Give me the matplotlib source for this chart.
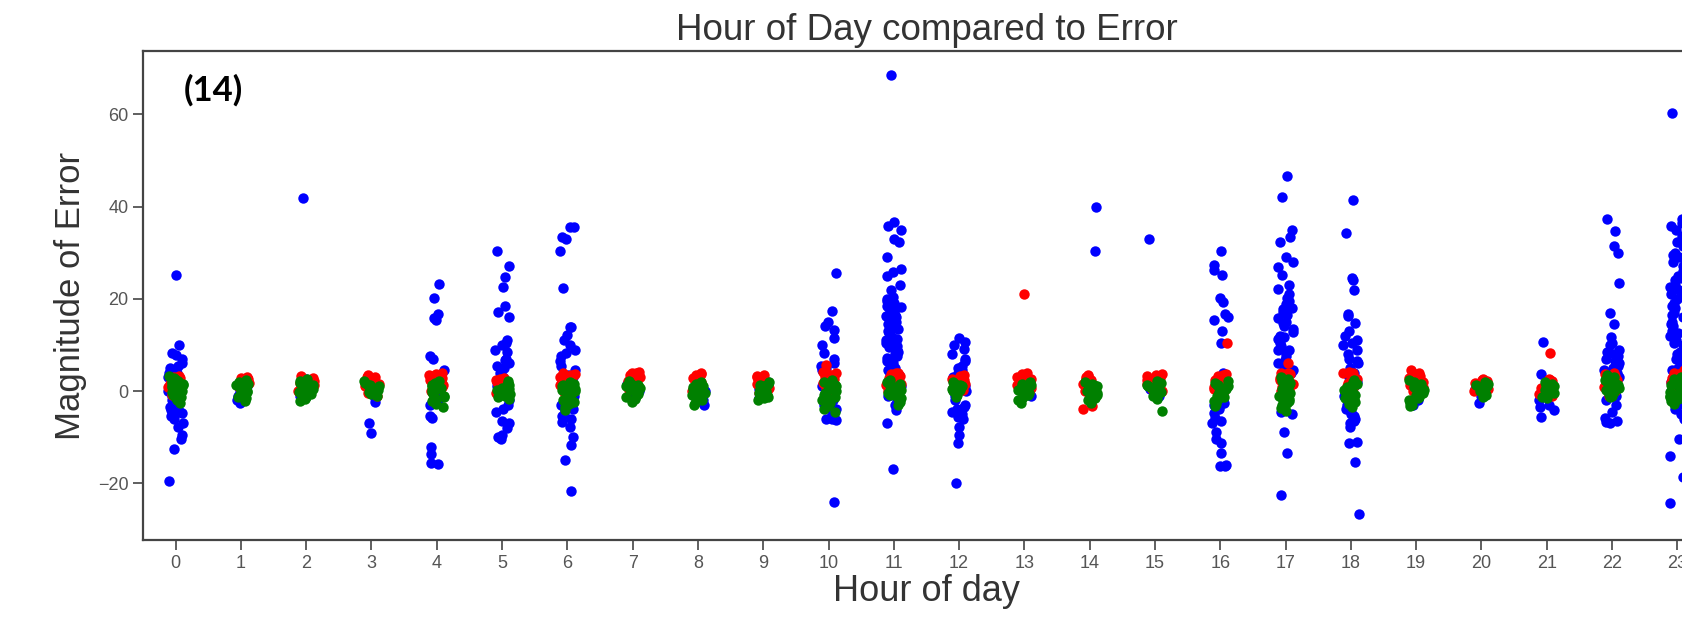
import numpy as np
import pandas as pd
import matplotlib
matplotlib.use("Agg")
import matplotlib.pyplot as plt
import seaborn as sns

# -------------------------------------------------------
# DATA (one list per hour)
# -------------------------------------------------------
hours = list(range(24))

blue_err = [
    [25.1, 10, 8.2, 7.8, 7, 6, 5, 4.5, 4, 3.5, 3, 2.5, 2, 1.5, 1, 0.5, 0, -0.5, -1, -1.5, -2, -2.5, -3,
     -3.5, -4, -4.5, -5, -5.5, -6, -4.8, -6.9, -7.9, -9.5, -10.3, -12.5, -19.6, 5.5, 3.8, -3.2, -4.2, -2.8],
    [-2.7, -2, -1, 0, 1, 2, -1.5],
    [41.9, -1.5, 0, 1.5, 2.5, -1],
    [-9, -6.9, -2.3, -1.5, 0, 1, 2],
    [23.3, 20.1, 16.8, 15.8, 15.4, 7.6, 6.9, 4.5, 3, 2, 1, 0, -1, -2, -3, -5.4, -5.9, -12.2, -13.7, -15.5, -15.8],
    [30.3, 27.1, 24.8, 22.6, 18.4, 17.2, 16.1, 11, 10.5, 10, 8.5, 7, 6.7, 6, 4.9, 4, 3, 2, 1, 0, -1, -2, -3,
     -3.8, -4.5, -6.6, -7, -8.1, -9.5, -10.3, -10, 5.5, 9],
    [35.6, 35.6, 33.4, 33, 30.4, 22.4, 13.9, 13.9, 12.1, 11, 10, 9, 8.2, 7.5, 6.5, 5.5, 4.5, 3.5, 3, 2, 1, 0,
     -1, -2, -3, -4, -5, -6, -6.8, -7.7, -9.9, -11.7, -15, -21.6, -5.5, -3.5],
    [-1.5, 0, 1.5],
    [-3, -2, 0, 1.5],
    [-1.5, 0.5, 2],
    [25.6, 17.4, 15, 14.2, 13.2, 11.4, 10, 8.2, 7, 6, 5, 4, 3, 2, 1, 0, -1, -2, -3, -4, -5, -6.1, -6.2, -6.1,
     -24, 5.5, 4.5, -5.5],
    [68.6, 36.7, 35.8, 35, 33, 32.3, 29.1, 25.8, 25, 23, 20.4, 20, 19.5, 19, 18.5, 18, 17.5, 17, 16.5, 16,
     15.5, 15, 14.5, 14, 13.5, 13, 12.5, 12, 11.5, 11, 10.5, 10, 9.5, 9, 8.5, 8, 7.5, 7, 6.5, 6, 5.5, 5, 4.5,
     4, 3.5, 3, 2, 1, 0, -1, -2, -3, -4.1, -7, -16.8, 16.2, 12.8, 9.8, 7.2, 22, 26.5, 18.2, 14.8, 11.2, 8.8],
    [11.4, 10.7, 10, 9.2, 8, 6.5, 5.5, 5, 4.5, 4, 3.5, 3, 2, 1, 0, -1, -2, -3, -4, -4.5, -5, -5.6, -6, -7.7,
     -9.5, -11.3, -19.9, 7, 2.5, -3.5],
    [-1, 0.5],
    [39.9, 30.3, -1, 0.5],
    [32.9, -1, 0.5],
    [30.4, 27.3, 26.2, 25.1, 20.1, 19.4, 16.8, 16.1, 15.4, 13, 10.5, 4, 3, 2, 1, 0, -1, -2, -3, -4, -4.8,
     -5.9, -7, -8.8, -10.3, -11.3, -13.5, -16.2, -16.2, -16, -3.5, -2.5, -6.5],
    [46.6, 42.1, 34.9, 33.4, 32.3, 29.1, 28, 26.9, 25.1, 23, 22.2, 21, 20.2, 19.5, 18.8, 18, 17.2, 16.5,
     15.8, 15, 14.2, 13.5, 12.8, 12, 11.3, 10.5, 9.8, 9, 8.3, 7.5, 6.8, 6, 5.3, 4.5, 3.8, 3, -4.5, -5, -8.8,
     -13.4, -22.5, 17.8, 14.7, 11.8, 8.8],
    [41.5, 34.3, 24.4, 24, 21.9, 16.8, 16.2, 14.7, 13, 12, 11, 10, 9, 8, 7, 6, 5, 4, 3, 2, 1, 0, -1, -2,
     -2.5, -3, -3.5, -4, -4.5, -5, -5.5, -6, -6.5, -7, -7.7, -11, -11.3, -15.3, -26.7, 6.5, 10.5],
    [-3, -2, 0, 1.5],
    [-2.5, -1, 0.5],
    [10.7, 3.6, -3, -4.1, -5.7, -2, -1, 0, 1.5, -3.5],
    [37.2, 34.7, 31.4, 30, 23.5, 16.9, 14.5, 11.8, 10.5, 10, 9, 8, 7, 6.5, 6, 5.5, 5, 4.5, 4, 3, 2, 1, 0,
     -1, -2, -3, -4.5, -5.9, -6.5, -7, -6.8, 8.5, 7.5],
    [60.2, 37.3, 36.5, 35.8, 35, 33.5, 32.3, 31.5, 30, 29, 28, 27, 26, 25, 24, 23, 22, 21, 20, 19, 18, 17,
     16, 15, 14, 13, 12, 11, 10, 9, 8, 7, 6, 5, 4, 3, 2, 1, 0, -1, -2, -3, -4, -5, -6, -10.3, -14.1, -18.6,
     -24.2, 24.5, 20.5, 16.5, 12.5, 8.5, 4.5, 29.5, 22.5, 18.5, 14.5, 10.5, 6.5],
]

red_err = [
    [3.2, 2.8, 2.4, 2, 1.6, 1.2, 0.8, 0.4, 0, -0.4, -0.8, 2.6, 3],
    [3.1, 2.6, 2.2, 1.8, 1.4, 1, 0.6, 0.2, -0.2, -0.6, 2.8],
    [3.3, 2.9, 2.5, 2.1, 1.7, 1.3, 0.9, 0.5, 0.1, -0.3],
    [3.5, 3.1, 2.7, 2.3, 1.9, 1.5, 1.1, 0.7, 0.3, -0.1, -0.5, -1, 3],
    [4, 3.6, 3.2, 2.8, 2.4, 2, 1.6, 1.2, 0.8, 0.4, 0, -0.4, 3.4],
    [2.8, 2.4, 2, 1.6, 1.2, 0.8, 0.4, 0, -0.4, 2.6],
    [3.8, 3.4, 3, 2.6, 2.2, 1.8, 1.4, 1, 0.6, 0.2, -0.2, 3.6, 2.8],
    [4.2, 3.8, 3.4, 3, 2.6, 2.2, 1.8, 1.4, 1, 0.6, 0.2, 3.9],
    [4, 3.6, 3.2, 2.8, 2.4, 2, 1.6, 1.2, 0.8, 0.4, 0, -0.4, 3.4],
    [3.5, 3.1, 2.7, 2.3, 1.9, 1.5, 1.1, 0.7, 0.3, -0.1, -0.5, 3.3],
    [5.6, 4.2, 3.8, 3.4, 3, 2.6, 2.2, 1.8, 1.4, 1, 0.6, 0.2, 4],
    [4, 3.6, 3.2, 2.8, 2.4, 2, 1.6, 1.2, 0.8, 0.4, 0, 3.8],
    [3.5, 3.1, 2.7, 2.3, 1.9, 1.5, 1.1, 0.7, 0.3, 3.3],
    [21, 3.8, 3.4, 3, 2.6, 2.2, 1.8, 1.4, 1, 0.6, 0.2, -0.2, 3.6],
    [3.5, 3.1, 2.7, 2.3, 1.9, 1.5, 1.1, 0.7, 0.3, -0.1, -3.8, -3.2, 3.2],
    [3.6, 3.2, 2.8, 2.4, 2, 1.6, 1.2, 0.8, 0.4, 0, 3.4],
    [10.5, 3.6, 3.2, 2.8, 2.4, 2, 1.6, 1.2, 0.8, 0.4, 0, 3.4],
    [6, 4, 3.6, 3.2, 2.8, 2.4, 2, 1.6, 1.2, 0.8, 0.4, 0, 3.8],
    [4.2, 3.8, 3.4, 3, 2.6, 2.2, 1.8, 1.4, 1, 0.6, 0.2, 4],
    [4.5, 4, 3.6, 3.2, 2.8, 2.4, 2, 1.6, 1.2, 0.8, 0.4, 0],
    [2.5, 2.1, 1.7, 1.3, 0.9, 0.5, 0.1, 2.3],
    [8.3, 2.6, 2.2, 1.8, 1.4, 1, 0.6, 0.2, -0.2, -0.6, -1, 2.4],
    [4, 3.6, 3.2, 2.8, 2.4, 2, 1.6, 1.2, 0.8, 0.4, 0, -0.4, -1],
    [4.5, 4, 3.6, 3.2, 2.8, 2.4, 2, 1.6, 1.2, 0.8, 0.4, 0, 3.8],
]

green_err = [
    [3.3, 2.8, 2.4, 2, 1.6, 1.2, 0.8, 0.4, 0, -0.4, -0.8, -1.2, -1.6, -2, -2.6, 1, 0.2, 1.8, 2.2, -0.2],
    [2.4, 2, 1.6, 1.2, 0.8, 0.4, 0, -0.4, -0.8, -1.2, -1.6, -2.1, 0.2, 1, -0.2],
    [2.6, 2.2, 1.8, 1.4, 1, 0.6, 0.2, -0.2, -0.6, -1, -1.4, -1.8, -2.2, 0.4, 1.2],
    [2.2, 1.8, 1.4, 1, 0.6, 0.2, -0.2, -0.6, -1, 0.4, 1.2, -0.4],
    [2.2, 1.8, 1.4, 1, 0.6, 0.2, -0.2, -0.6, -1, -1.4, -1.8, -2.2, -2.8, -3.4, 0.4],
    [2.2, 1.8, 1.4, 1, 0.6, 0.2, -0.2, -0.6, -1, -1.4, -1.8, 0.4, 1.2],
    [2, 1.6, 1.2, 0.8, 0.4, 0, -0.4, -0.8, -1.2, -1.6, -2, -2.4, -2.8, -3.4, -4.1, 0.2, 1, -0.6],
    [2.2, 1.8, 1.4, 1, 0.6, 0.2, -0.2, -0.6, -1, -1.4, -1.8, -2.3, 0.4, 1.2],
    [2, 1.6, 1.2, 0.8, 0.4, 0, -0.4, -0.8, -1.2, -1.6, -2, -2.5, -3, 0.2, 1],
    [2, 1.6, 1.2, 0.8, 0.4, 0, -0.4, -0.8, -1.2, -1.6, -2, 0.2, 1],
    [2.4, 2, 1.6, 1.2, 0.8, 0.4, 0, -0.4, -0.8, -1.2, -1.6, -2, -2.6, -3.2, -3.8, -4.5, 0.2, 1],
    [2.4, 2, 1.6, 1.2, 0.8, 0.4, 0, -0.4, -0.8, -1.2, -1.6, -2, -2.4, -3, 0.2, 1],
    [2, 1.6, 1.2, 0.8, 0.4, 0, -0.4, -0.8, -1.2, 0.2, 1],
    [2, 1.6, 1.2, 0.8, 0.4, 0, -0.4, -0.8, -1.2, -1.6, -2, -2.7, 0.2, 1],
    [2, 1.6, 1.2, 0.8, 0.4, 0, -0.4, -0.8, -1.2, -1.6, -2, -2.5, 0.2, 1],
    [2.2, 1.8, 1.4, 1, 0.6, 0.2, -0.2, -0.6, -1, -1.4, -1.8, -4.3, 0.4, 1.2],
    [2.2, 1.8, 1.4, 1, 0.6, 0.2, -0.2, -0.6, -1, -1.4, -1.8, -2.2, -2.8, -3.3, 0.4, 1.2],
    [3, 2.6, 2.2, 1.8, 1.4, 1, 0.6, 0.2, -0.2, -0.6, -1, -1.4, -1.8, -2.2, -2.6, -3, -3.6, -4.3, 0.4, 1.2, -0.4],
    [2.4, 2, 1.6, 1.2, 0.8, 0.4, 0, -0.4, -0.8, -1.2, -1.6, -2, -2.4, -2.8, -3.5, 0.2, 1],
    [2.4, 2, 1.6, 1.2, 0.8, 0.4, 0, -0.4, -0.8, -1.2, -1.6, -2, -2.5, -3.2, -3, 0.2, 1],
    [2, 1.6, 1.2, 0.8, 0.4, 0, -0.4, -0.8, -1.2, 0.2, 1],
    [2, 1.6, 1.2, 0.8, 0.4, 0, -0.4, -0.8, -1.2, -1.6, 0.2, 1],
    [3.5, 3, 2.6, 2.2, 1.8, 1.4, 1, 0.6, 0.2, -0.2, -0.6, -1, -1.4, 0.4, 1.2, 2.4, 2.8],
    [3, 2.6, 2.2, 1.8, 1.4, 1, 0.6, 0.2, -0.2, -0.6, -1, -1.4, -1.8, -2.2, -2.8, 0.4, 1.2, -0.4],
]

series_colors = ["blue", "red", "green"]


def to_long(per_hour):
    rows = [(str(h), v) for h, vals in zip(hours, per_hour) for v in vals]
    return pd.DataFrame(rows, columns=["hour", "err"])


# -------------------------------------------------------
# PLOT
# -------------------------------------------------------
sns.set_style("ticks")
plt.rcParams["font.family"] = ["Liberation Sans", "DejaVu Sans"]

fig = plt.figure(figsize=(16.82, 6.21), dpi=100)
# right edge of the axes runs past the figure, like the cropped original
ax = fig.add_axes([0.085, 0.1304, 0.9316, 0.7874])

np.random.seed(3)  # stable jitter
order = [str(h) for h in hours]
for per_hour, col in zip([blue_err, red_err, green_err], series_colors):
    sns.stripplot(data=to_long(per_hour), x="hour", y="err", order=order,
                  color=col, jitter=0.12, size=7.5, linewidth=0, ax=ax)

ax.set_ylim(-32.3, 73.7)
ax.set_yticks([-20, 0, 20, 40, 60])
ax.tick_params(labelsize=13, colors="#444444", labelcolor="#555555", length=7, width=1.2)
for s in ax.spines.values():
    s.set_color("#444444")
    s.set_linewidth(1.6)

ax.set_title("Hour of Day compared to Error", fontsize=26.5, color="#333333", pad=8)
ax.set_xlabel("Hour of day", fontsize=26, color="#333333", labelpad=2)
ax.set_ylabel("Magnitude of Error", fontsize=25, color="#333333", labelpad=8)

fig.text(184 / 1682, 1 - 90 / 621, "(14)", fontsize=25, fontweight="bold",
         family=["Lato", "DejaVu Sans"], va="center", ha="left", color="black")

plt.savefig("out.png", dpi=100)
plt.close()
